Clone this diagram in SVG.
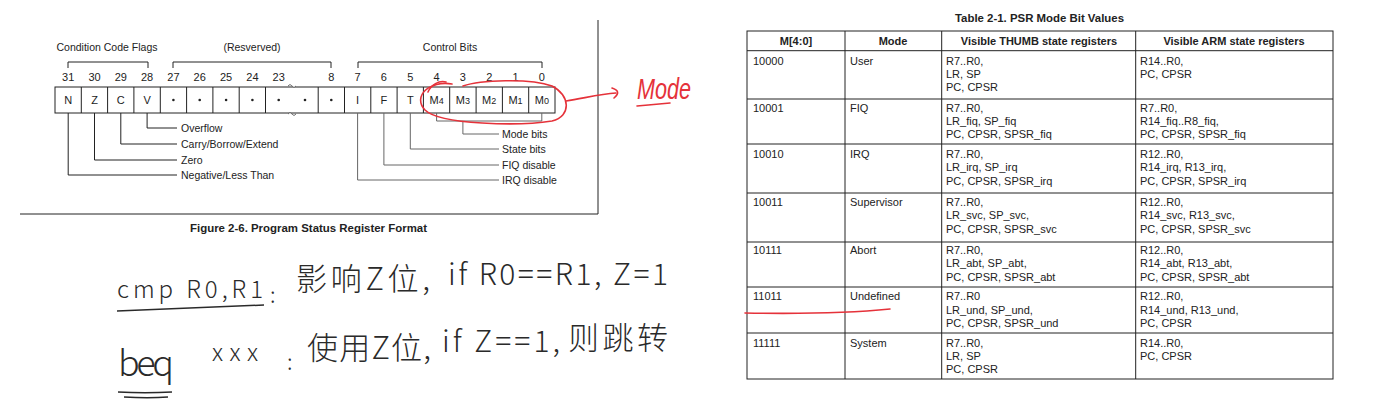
<svg xmlns="http://www.w3.org/2000/svg" width="1376" height="407" viewBox="0 0 1376 407">
<style>
.t{font-family:"Liberation Sans",Arial,sans-serif;font-size:11px;fill:#222}
.s{font-family:"Liberation Sans",Arial,sans-serif;font-size:10.5px;fill:#222}
.c{text-anchor:middle}
.b{font-weight:bold}
.ln{stroke:#222;stroke-width:1;fill:none}
.lg{stroke:#666;stroke-width:1;fill:none}
.red{stroke:#e5323a;stroke-width:1.6;fill:none;stroke-linecap:round}
.hw{font-family:"Noto Sans CJK SC","Liberation Sans",sans-serif;fill:#2a2a2a;font-weight:300}
</style>
<rect width="1376" height="407" fill="#fff"/>

<!-- Figure frame -->
<g id="frame">
<path class="ln" d="M20 214 H598 V20" stroke="#555"/>
</g>

<!-- Group labels and brackets -->
<g id="labels-top">
<text class="s c" x="107" y="51">Condition Code Flags</text>
<text class="s c" x="252" y="51">(Resverved)</text>
<text class="s c" x="450" y="51">Control Bits</text>
<path class="ln" d="M68 68 V62 H148 V68"/>
<path class="ln" d="M173 68 V62 H331 V68"/>
<path class="ln" d="M358 68 V62 H542 V68"/>
</g>

<g id="bit-numbers" class="t c">
<text class="t c" x="68.2" y="81">31</text>
<text class="t c" x="94.5" y="81">30</text>
<text class="t c" x="120.8" y="81">29</text>
<text class="t c" x="147.1" y="81">28</text>
<text class="t c" x="173.4" y="81">27</text>
<text class="t c" x="199.7" y="81">26</text>
<text class="t c" x="226.1" y="81">25</text>
<text class="t c" x="252.4" y="81">24</text>
<text class="t c" x="278.7" y="81">23</text>
<text class="t c" x="331.3" y="81">8</text>
<text class="t c" x="357.6" y="81">7</text>
<text class="t c" x="383.9" y="81">6</text>
<text class="t c" x="410.3" y="81">5</text>
<text class="t c" x="436.6" y="81">4</text>
<text class="t c" x="462.9" y="81">3</text>
<text class="t c" x="489.2" y="81">2</text>
<text class="t c" x="515.5" y="81">1</text>
<text class="t c" x="541.8" y="81">0</text>
</g>

<!-- Register -->
<g id="register">
<rect class="ln" x="55" y="87" width="500" height="26"/>
<path class="ln" d="M81.3 87V113M107.6 87V113M133.9 87V113M160.3 87V113M186.6 87V113M212.9 87V113M239.2 87V113M265.5 87V113M318.2 87V113M344.5 87V113M370.8 87V113M397.1 87V113M423.4 87V113M449.7 87V113M476.1 87V113M502.4 87V113M528.7 87V113"/>
<path d="M288 86 q2 -3 4 0 q2 3 4 0 M288 114 q2 -3 4 0 q2 3 4 0" stroke="#444" stroke-width="0.8" fill="#fff"/>
<text class="t c" x="68.2" y="104">N</text>
<text class="t c" x="94.5" y="104">Z</text>
<text class="t c" x="120.8" y="104">C</text>
<text class="t c" x="147.1" y="104">V</text>
<g fill="#222">
<circle cx="173.4" cy="100" r="1.3"/><circle cx="199.7" cy="100" r="1.3"/><circle cx="226.1" cy="100" r="1.3"/><circle cx="252.4" cy="100" r="1.3"/><circle cx="278.7" cy="100" r="1.3"/><circle cx="305" cy="100" r="1.3"/><circle cx="331.3" cy="100" r="1.3"/>
</g>
<text class="t c" x="357.6" y="104">I</text>
<text class="t c" x="383.9" y="104">F</text>
<text class="t c" x="410.3" y="104">T</text>
<text class="t c" x="436.6" y="104">M<tspan font-size="9">4</tspan></text>
<text class="t c" x="462.9" y="104">M<tspan font-size="9">3</tspan></text>
<text class="t c" x="489.2" y="104">M<tspan font-size="9">2</tspan></text>
<text class="t c" x="515.5" y="104">M<tspan font-size="9">1</tspan></text>
<text class="t c" x="541.8" y="104">M<tspan font-size="9">0</tspan></text>
</g>

<!-- Leader lines -->
<g id="connectors">
<path class="ln" d="M147.1 113V128H177"/>
<path class="ln" d="M120.8 113V144H177"/>
<path class="ln" d="M94.5 113V160H177"/>
<path class="ln" d="M68.2 113V175H177"/>
<path class="lg" d="M436.6 113V121H541.8V113"/>
<path class="lg" d="M462.9 121V134H499"/>
<path class="lg" d="M410.3 113V149H499"/>
<path class="lg" d="M383.9 113V165H499"/>
<path class="lg" d="M357.6 113V180H499"/>
</g>

<g id="leader-labels">
<text class="s" x="181" y="132">Overflow</text>
<text class="s" x="181" y="148">Carry/Borrow/Extend</text>
<text class="s" x="181" y="164">Zero</text>
<text class="s" x="181" y="179">Negative/Less Than</text>
<text class="s" x="502" y="138">Mode bits</text>
<text class="s" x="502" y="153">State bits</text>
<text class="s" x="502" y="169">FIQ disable</text>
<text class="s" x="502" y="184">IRQ disable</text>
</g>

<text id="caption" class="s b" x="190" y="232" textLength="237" lengthAdjust="spacingAndGlyphs">Figure 2-6. Program Status Register Format</text>

<!-- Red annotation on figure -->
<g id="mode-annotation">
<path class="red" d="M452 84 C430 80 412 96 425 110 C440 125 520 126 552 121 C572 116 570 95 552 86 C530 78 480 80 463 86"/>
<path class="red" d="M428 92 C431 85 439 80 446 82"/>
<path class="red" d="M566 101 C585 98 600 94 616 93"/>
<path class="red" d="M612 88 C618 90 620 93 614 98"/>
<text x="637" y="99" font-family="Liberation Sans,sans-serif" font-size="30" font-style="italic" fill="#e5323a" textLength="54" lengthAdjust="spacingAndGlyphs">Mode</text>
<path class="red" d="M637 106 C648 105 660 104 670 103"/>
</g>

<!-- Handwritten notes -->
<g id="notes">
<text class="hw" x="117" y="298" font-size="24" textLength="146" lengthAdjust="spacing">cmp R0,R1</text>
<path d="M117 311 C170 309 220 307 264 305" stroke="#2a2a2a" stroke-width="1.5" fill="none"/>
<text class="hw" x="270" y="303" font-size="22">:</text>
<text class="hw" x="296" y="290" font-size="31" textLength="134" lengthAdjust="spacing">影响Z位,</text>
<text class="hw" x="448" y="285" font-size="30" textLength="220" lengthAdjust="spacing">if R0==R1, Z=1</text>

<text class="hw" x="118" y="376" font-size="36" textLength="56" lengthAdjust="spacing">beq</text>
<path d="M118 392 C135 393 155 393 172 392 M124 397 C140 398 155 398 168 397" stroke="#2a2a2a" stroke-width="1.5" fill="none"/>
<text class="hw" x="212" y="361" font-size="24" textLength="46" lengthAdjust="spacing">xxx</text>
<text class="hw" x="287" y="370" font-size="22">:</text>
<text class="hw" x="307" y="359" font-size="31" textLength="124" lengthAdjust="spacing">使用Z位,</text>
<text class="hw" x="442" y="352" font-size="30" textLength="118" lengthAdjust="spacing">if Z==1,</text>
<text class="hw" x="568" y="349" font-size="31" textLength="100" lengthAdjust="spacing">则跳转</text>
</g>

<!-- Table -->
<g id="table">
<text class="t b" x="955" y="22" textLength="169" lengthAdjust="spacingAndGlyphs">Table 2-1. PSR Mode Bit Values</text>
<rect class="ln" x="747" y="31" width="586" height="348"/>
<path class="ln" d="M845 31V379M941.7 31V379M1135.7 31V379"/>
<path class="ln" d="M747 50.7H1333M747 99H1333M747 144H1333M747 193H1333M747 242H1333M747 287H1333M747 333H1333"/>
<text class="t b c" x="796" y="45">M[4:0]</text>
<text class="t b c" x="893" y="45">Mode</text>
<text class="t b c" x="1039" y="45">Visible THUMB state registers</text>
<text class="t b c" x="1234" y="45">Visible ARM state registers</text>

<g id="row-user">
<text class="t" x="753" y="65">10000</text><text class="t" x="850" y="65">User</text>
<text class="t" x="946" y="65">R7..R0,</text><text class="t" x="946" y="78">LR, SP</text><text class="t" x="946" y="91">PC, CPSR</text>
<text class="t" x="1140" y="65">R14..R0,</text><text class="t" x="1140" y="78">PC, CPSR</text>
</g>
<g id="row-fiq">
<text class="t" x="753" y="112">10001</text><text class="t" x="850" y="112">FIQ</text>
<text class="t" x="946" y="112">R7..R0,</text><text class="t" x="946" y="125">LR_fiq, SP_fiq</text><text class="t" x="946" y="138">PC, CPSR, SPSR_fiq</text>
<text class="t" x="1140" y="112">R7..R0,</text><text class="t" x="1140" y="125">R14_fiq..R8_fiq,</text><text class="t" x="1140" y="138">PC, CPSR, SPSR_fiq</text>
</g>
<g id="row-irq">
<text class="t" x="753" y="158">10010</text><text class="t" x="850" y="158">IRQ</text>
<text class="t" x="946" y="158">R7..R0,</text><text class="t" x="946" y="171">LR_irq, SP_irq</text><text class="t" x="946" y="185">PC, CPSR, SPSR_irq</text>
<text class="t" x="1140" y="158">R12..R0,</text><text class="t" x="1140" y="171">R14_irq, R13_irq,</text><text class="t" x="1140" y="185">PC, CPSR, SPSR_irq</text>
</g>
<g id="row-svc">
<text class="t" x="753" y="206">10011</text><text class="t" x="850" y="206">Supervisor</text>
<text class="t" x="946" y="206">R7..R0,</text><text class="t" x="946" y="219">LR_svc, SP_svc,</text><text class="t" x="946" y="233">PC, CPSR, SPSR_svc</text>
<text class="t" x="1140" y="206">R12..R0,</text><text class="t" x="1140" y="219">R14_svc, R13_svc,</text><text class="t" x="1140" y="233">PC, CPSR, SPSR_svc</text>
</g>
<g id="row-abt">
<text class="t" x="753" y="254">10111</text><text class="t" x="850" y="254">Abort</text>
<text class="t" x="946" y="254">R7..R0,</text><text class="t" x="946" y="267">LR_abt, SP_abt,</text><text class="t" x="946" y="281">PC, CPSR, SPSR_abt</text>
<text class="t" x="1140" y="254">R12..R0,</text><text class="t" x="1140" y="267">R14_abt, R13_abt,</text><text class="t" x="1140" y="281">PC, CPSR, SPSR_abt</text>
</g>
<g id="row-und">
<text class="t" x="753" y="300">11011</text><text class="t" x="850" y="300">Undefined</text>
<text class="t" x="946" y="300">R7..R0</text><text class="t" x="946" y="314">LR_und, SP_und,</text><text class="t" x="946" y="327">PC, CPSR, SPSR_und</text>
<text class="t" x="1140" y="300">R12..R0,</text><text class="t" x="1140" y="314">R14_und, R13_und,</text><text class="t" x="1140" y="327">PC, CPSR</text>
</g>
<g id="row-sys">
<text class="t" x="753" y="347">11111</text><text class="t" x="850" y="347">System</text>
<text class="t" x="946" y="347">R7..R0,</text><text class="t" x="946" y="360">LR, SP</text><text class="t" x="946" y="373">PC, CPSR</text>
<text class="t" x="1140" y="347">R14..R0,</text><text class="t" x="1140" y="360">PC, CPSR</text>
</g>
</g>

<path id="underline-undefined" class="red" d="M745 313 C800 314 850 313 890 309"/>
</svg>
